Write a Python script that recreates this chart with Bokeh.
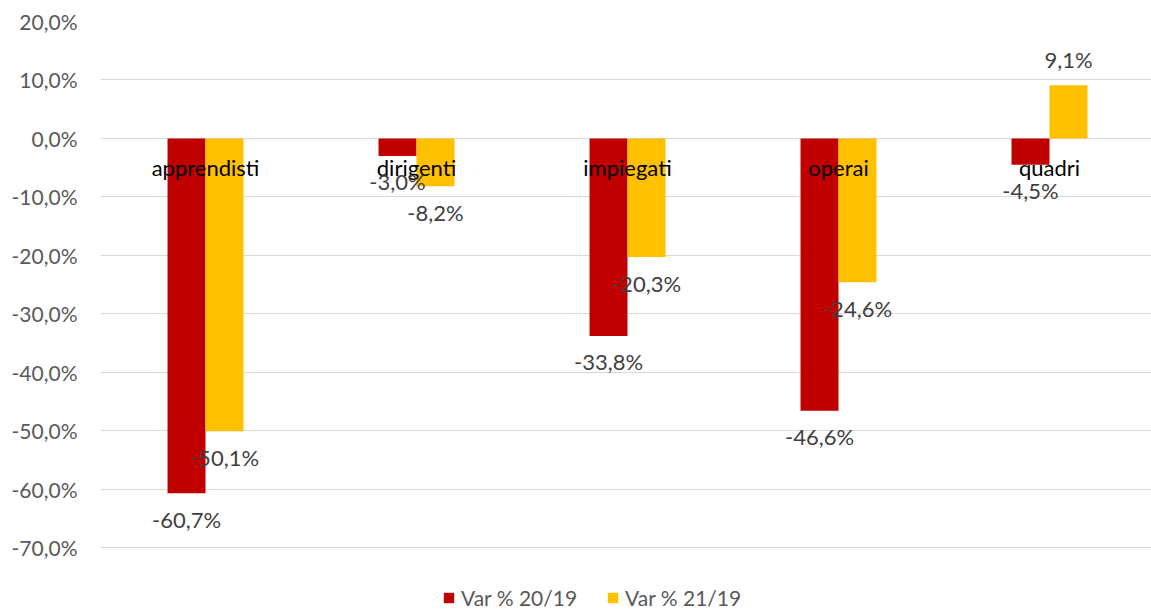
import numpy as np
from bokeh.plotting import figure
from bokeh.models import ColumnDataSource, FixedTicker, Range1d, Legend, LegendItem
from bokeh.core.properties import value
from bokeh.embed import file_html
from bokeh.resources import INLINE

categories = ["apprendisti", "dirigenti", "impiegati", "operai", "quadri"]
var_20_19 = [-60.7, -3.0, -33.8, -46.6, -4.5]
var_21_19 = [-50.1, -8.2, -20.3, -24.6, 9.1]
series_names = ["Var % 20/19", "Var % 21/19"]
series_colors = ["#C00000", "#FFC000"]
tick_values = [-70, -60, -50, -40, -30, -20, -10, 0, 10, 20]
tick_labels = ["-70,0%", "-60,0%", "-50,0%", "-40,0%", "-30,0%", "-20,0%", "-10,0%", "0,0%", "10,0%", "20,0%"]

FONT = "Lato"
FS = "21px"
FS_LBL = "22px"
W, H = 1151, 610
LEFT, TOP = 100, 21
CAT_PX = 211.0
Y_PX = 526.0 / 90.0

frame_w = W - LEFT
frame_h = H - TOP
x_start = -105.0 / CAT_PX
x_end = x_start + frame_w / CAT_PX
y_end = 20.0
y_start = y_end - frame_h / Y_PX

p = figure(width=W, height=H, output_backend="svg", toolbar_location=None,
           x_range=Range1d(x_start, x_end), y_range=Range1d(y_start, y_end),
           min_border_left=LEFT, min_border_top=TOP, min_border_right=0, min_border_bottom=0)
p.outline_line_color = None
p.background_fill_color = "white"
p.xaxis.visible = False
p.xgrid.visible = False
p.ygrid.grid_line_color = "#D9D9D9"
p.ygrid.grid_line_width = 1
p.yaxis.ticker = FixedTicker(ticks=tick_values)
p.yaxis.major_label_overrides = {v: l for v, l in zip(tick_values, tick_labels)}
p.yaxis.axis_line_color = None
p.yaxis.major_tick_line_color = None
p.yaxis.minor_tick_line_color = None
p.yaxis.major_label_standoff = 17
p.yaxis.major_label_text_font = FONT
p.yaxis.major_label_text_font_size = FS
p.yaxis.major_label_text_color = "#595959"

idx = np.arange(len(categories))
bw = 0.18
offsets = [-bw / 2, bw / 2]
renderers = []
for vals, col, off in zip([var_20_19, var_21_19], series_colors, offsets):
    xs = idx + off
    src = ColumnDataSource(dict(x=xs, top=vals))
    r = p.vbar(x="x", top="top", bottom=0, width=bw, source=src, fill_color=col, line_color=None)
    renderers.append(r)

# category labels at the zero line
p.text(x=idx, y=[0] * len(categories), text=categories, text_align="center",
       text_baseline="alphabetic", y_offset=29, text_font=value(FONT),
       text_font_size=FS_LBL, text_color="black")

# data labels
for vals, off in zip([var_20_19, var_21_19], offsets):
    xs = idx + off
    labels = [f"{v:.1f}%".replace(".", ",") for v in vals]
    neg = [v < 0 for v in vals]
    yoff = [26 if n else -26 for n in neg]
    src = ColumnDataSource(dict(x=xs, y=vals, t=labels, yo=yoff))
    p.text(x="x", y="y", text="t", y_offset="yo", source=src, text_align="center",
           text_baseline="alphabetic", text_font=value(FONT), text_font_size=FS_LBL,
           text_color="#404040")

legend = Legend(items=[LegendItem(label=n, renderers=[r]) for n, r in zip(series_names, renderers)],
                orientation="horizontal", location=(342, 0))
legend.border_line_color = None
legend.background_fill_alpha = 0
legend.padding = 0
legend.margin = 0
legend.spacing = 29
legend.label_standoff = 6
legend.glyph_width = 13
legend.glyph_height = 13
legend.label_text_font = FONT
legend.label_text_font_size = FS
legend.label_text_color = "#595959"
p.add_layout(legend)

open("out.html", "w").write(file_html(p, INLINE))
